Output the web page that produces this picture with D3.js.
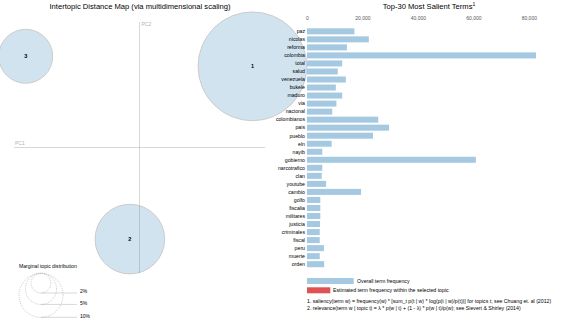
<!DOCTYPE html>
<meta charset="utf-8">
<head>
<style>
body { margin: 0; background: #fff; }
text { font-family: "Liberation Sans", Arial, sans-serif; }
.xaxis path, .xaxis line { display: none; }
.xaxis text { fill: #555; font-size: 5px; }
</style>
</head>
<body>
<svg width="582" height="327"></svg>
<script src="https://cdn.jsdelivr.net/npm/d3@7"></script>
<script>
// topics (left panel)
var topicIds = [1, 2, 3],
    topicX = [0.27, -0.023, -0.272],
    topicY = [0.194, -0.219, 0.218],
    topicFreq = [0.61, 0.25, 0.15];

// salient terms (right panel)
var terms = ["paz", "nicolas", "reforma", "colombia", "total", "salud", "venezuela", "bukele",
  "maduro", "via", "nacional", "colombianos", "pais", "pueblo", "eln", "nayib", "gobierno",
  "narcotrafico", "clan", "youtube", "cambio", "golfo", "fiscalia", "militares", "justicia",
  "criminales", "fiscal", "peru", "muerte", "orden"];
var termFreq = [17100, 22300, 14400, 82600, 12700, 11100, 14000, 10400,
  12700, 10600, 9100, 25700, 29600, 23800, 8900, 5500, 60900,
  5500, 5300, 6900, 19500, 4800, 4800, 4800, 4700,
  4600, 4600, 6100, 4600, 6200];

var legendSizes = [0.02, 0.05, 0.10],
    legendLabels = ["2%", "5%", "10%"];

var svg = d3.select("svg");
var blue = "#1f77b4", red = "#d62728";

// ---- left panel: intertopic distance map
var left = svg.append("g");
var x = d3.scaleLinear().domain([-0.3, 0.3]).range([14, 265]);
var y = d3.scaleLinear().domain([-0.3, 0.3]).range([273, 22]);
var r = d3.scaleSqrt().domain([0, 1]).range([0, 69.6]);

left.append("text")
    .attr("x", 140).attr("y", 8.5)
    .attr("text-anchor", "middle")
    .style("font-size", "7.6px")
    .text("Intertopic Distance Map (via multidimensional scaling)");

left.append("line")
    .attr("x1", x(-0.3)).attr("x2", x(0.3))
    .attr("y1", y(0)).attr("y2", y(0))
    .attr("stroke", "gray").attr("opacity", 0.3);
left.append("line")
    .attr("x1", x(0)).attr("x2", x(0))
    .attr("y1", y(0.3)).attr("y2", y(-0.3))
    .attr("stroke", "gray").attr("opacity", 0.3);
left.append("text")
    .attr("x", x(-0.3) + 1).attr("y", y(0) - 3)
    .attr("fill", "gray").attr("opacity", 0.6)
    .style("font-size", "5px").text("PC1");
left.append("text")
    .attr("x", x(0) + 2).attr("y", y(0.3) + 4)
    .attr("fill", "gray").attr("opacity", 0.6)
    .style("font-size", "5px").text("PC2");

var topics = topicIds.map(function(d, i) {
  return {id: d, x: topicX[i], y: topicY[i], freq: topicFreq[i]};
});

left.selectAll(".dot")
    .data(topics)
  .enter().append("circle")
    .attr("class", "dot")
    .attr("cx", function(d) { return x(d.x); })
    .attr("cy", function(d) { return y(d.y); })
    .attr("r", function(d) { return r(d.freq); })
    .attr("stroke", "black")
    .style("fill", blue)
    .style("opacity", 0.2);

left.selectAll(".txt")
    .data(topics)
  .enter().append("text")
    .attr("class", "txt")
    .attr("x", function(d) { return x(d.x); })
    .attr("y", function(d) { return y(d.y); })
    .attr("dy", "0.35em")
    .attr("text-anchor", "middle")
    .style("font-size", "5.5px")
    .style("font-weight", "bold")
    .text(function(d) { return d.id; });

// marginal topic distribution guide
var guideTop = 273.3, cx = 41, cx2 = 77;
left.append("text")
    .attr("x", 19).attr("y", 268.3)
    .style("font-size", "5.1px")
    .text("Marginal topic distribution");
legendSizes.forEach(function(p, i) {
  var rs = r(p);
  left.append("circle")
      .attr("cx", cx).attr("cy", guideTop + rs).attr("r", rs)
      .style("fill", "none")
      .style("stroke", "#999")
      .style("stroke-width", 0.5)
      .style("stroke-dasharray", "1 1");
  left.append("line")
      .attr("x1", cx).attr("x2", cx2)
      .attr("y1", guideTop + 2 * rs).attr("y2", guideTop + 2 * rs)
      .style("stroke", "gray").style("opacity", 0.3);
  left.append("text")
      .attr("x", cx2 + 3).attr("y", guideTop + 2 * rs + 0.3)
      .style("font-size", "5px")
      .text(legendLabels[i]);
});

// ---- right panel: top-30 terms
var right = svg.append("g");
var bx = d3.scaleLinear().domain([0, d3.max(termFreq)]).range([307, 536]);
var by = d3.scaleBand().domain(terms).range([27.3, 268.2])
    .paddingInner(0.25).paddingOuter(0.125);

var rt = right.append("text")
    .attr("x", 429).attr("y", 8.5)
    .attr("text-anchor", "middle")
    .style("font-size", "7.6px");
rt.append("tspan").text("Top-30 Most Salient Terms");
rt.append("tspan").attr("dy", "-2.5").style("font-size", "5px").text("1");

right.append("g")
    .attr("class", "xaxis")
    .attr("transform", "translate(0,22)")
    .call(d3.axisTop(bx).ticks(5).tickSize(0).tickPadding(2).tickFormat(d3.format(",")));

var rows = terms.map(function(t, i) { return {term: t, freq: termFreq[i]}; });

right.selectAll(".bar")
    .data(rows)
  .enter().append("rect")
    .attr("class", "bar")
    .attr("x", bx(0))
    .attr("y", function(d) { return by(d.term); })
    .attr("width", function(d) { return bx(d.freq) - bx(0); })
    .attr("height", by.bandwidth())
    .style("fill", blue)
    .attr("opacity", 0.4);

right.selectAll(".term")
    .data(rows)
  .enter().append("text")
    .attr("class", "term")
    .attr("x", 305)
    .attr("y", function(d) { return by(d.term) + by.bandwidth() / 2; })
    .attr("dy", "0.35em")
    .attr("text-anchor", "end")
    .style("font-size", "5.2px")
    .text(function(d) { return d.term; });

// legend
right.append("rect")
    .attr("x", 307).attr("y", 278).attr("width", 46.7).attr("height", 6)
    .style("fill", blue).attr("opacity", 0.4);
right.append("text")
    .attr("x", 357).attr("y", 282.7)
    .style("font-size", "5.2px")
    .text("Overall term frequency");
right.append("rect")
    .attr("x", 307).attr("y", 287.3).attr("width", 23.3).attr("height", 6)
    .style("fill", red).attr("opacity", 0.8);
right.append("text")
    .attr("x", 333).attr("y", 292)
    .style("font-size", "5.2px")
    .text("Estimated term frequency within the selected topic");

right.append("text")
    .attr("x", 307).attr("y", 303)
    .style("font-size", "5.2px")
    .text("1. saliency(term w) = frequency(w) * [sum_t p(t | w) * log(p(t | w)/p(t))] for topics t; see Chuang et. al (2012)");
right.append("text")
    .attr("x", 307).attr("y", 310)
    .style("font-size", "5.2px")
    .text("2. relevance(term w | topic t) = \u03bb * p(w | t) + (1 - \u03bb) * p(w | t)/p(w); see Sievert & Shirley (2014)");
</script>
</body>
</html>
